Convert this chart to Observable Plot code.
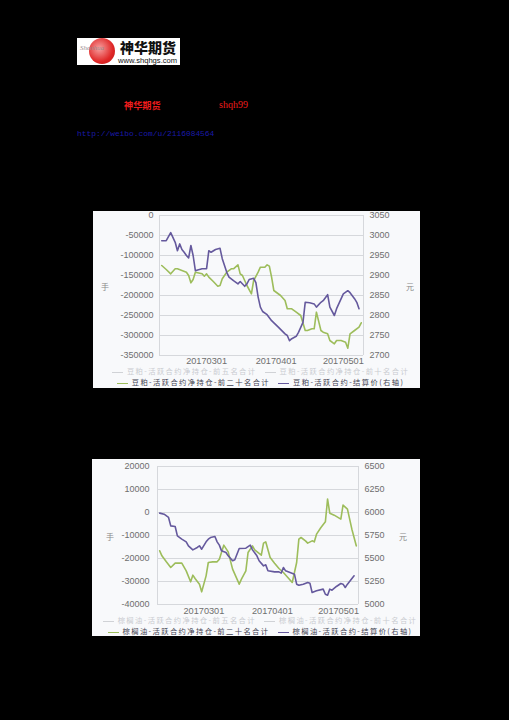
<!DOCTYPE html>
<html><head><meta charset="utf-8">
<script src="https://cdn.jsdelivr.net/npm/d3@7"></script>
<script src="https://cdn.jsdelivr.net/npm/@observablehq/plot@0.6"></script>
<style>
body{margin:0;background:#000;width:509px;height:720px;overflow:hidden;position:relative;font-family:"Liberation Sans",Arial,sans-serif}
.abs{position:absolute;white-space:nowrap}
.panel{position:absolute;background:#f8f9fb;overflow:hidden}
.legend{position:absolute;left:0;right:0;text-align:center;font-family:"Noto Sans CJK SC",sans-serif;font-size:7.3px;line-height:8px;height:8px;letter-spacing:1.4px;white-space:nowrap}
.sw{display:inline-block;width:11px;height:0;border-top:1px solid;vertical-align:middle;margin:0 4px 0 8px}
.unit{position:absolute;font-family:"Noto Sans CJK SC",sans-serif;font-size:8px;line-height:9px;color:#888;transform:translate(-50%,-50%)}
</style></head><body>

<div class="abs" style="left:77px;top:38px;width:103px;height:27px;background:#fff"></div>
<div class="abs" style="left:89px;top:38px;width:26px;height:26px;border-radius:50%;background:radial-gradient(circle at 40% 40%,#f7a0a0,#e02828 60%,#b81010)"></div>
<div class="abs" style="left:80px;top:44px;font-family:'Liberation Serif',serif;font-style:italic;font-size:7px;color:#9a8a8a">Shenhua</div>
<div class="abs" style="left:120px;top:39px;font-family:'Noto Sans CJK SC',sans-serif;font-weight:900;font-size:14px;line-height:17px;color:#111">神华期货</div>
<div class="abs" style="left:118px;top:56px;font-size:7.6px;line-height:9px;color:#111">www.shqhgs.com</div>

<div class="abs" style="left:124px;top:99px;font-family:'Noto Sans CJK SC',sans-serif;font-weight:bold;font-size:9.2px;line-height:12px;color:#ee1c1c">神华期货</div>
<div class="abs" style="left:219px;top:99px;font-family:'Liberation Serif',serif;font-size:10px;line-height:12px;color:#ee1c1c">shqh99</div>
<div class="abs" style="left:77px;top:128px;font-family:'Liberation Mono',monospace;font-size:7.9px;line-height:11px;color:#1a1aa8">http://weibo.com/u/2116084564</div>

<div class="panel" id="p1" style="left:93px;top:211px;width:327px;height:177px"></div>
<div class="panel" id="p2" style="left:92px;top:459px;width:328px;height:177px"></div>

<script>
// ---------- data ----------
const xTickLabels = ["20170301", "20170401", "20170501"];
const xDomainLabels = ["20170208", "20170510"];

const soyLeftTicks = [0, -50000, -100000, -150000, -200000, -250000, -300000, -350000];
const soyRightTicks = [3050, 3000, 2950, 2900, 2850, 2800, 2750, 2700];
const palmLeftTicks = [20000, 10000, 0, -10000, -20000, -30000, -40000];
const palmRightTicks = [6500, 6250, 6000, 5750, 5500, 5250, 5000];

const soyNetDates = ["2017-02-09","2017-02-11","2017-02-13","2017-02-15","2017-02-16","2017-02-18","2017-02-20","2017-02-21","2017-02-22","2017-02-23","2017-02-24","2017-02-27","2017-02-28","2017-03-01","2017-03-02","2017-03-04","2017-03-06","2017-03-07","2017-03-08","2017-03-10","2017-03-12","2017-03-13","2017-03-15","2017-03-16","2017-03-17","2017-03-19","2017-03-21","2017-03-22","2017-03-24","2017-03-25","2017-03-27","2017-03-28","2017-03-29","2017-03-30","2017-03-31","2017-04-03","2017-04-05","2017-04-06","2017-04-08","2017-04-10","2017-04-12","2017-04-14","2017-04-15","2017-04-17","2017-04-18","2017-04-19","2017-04-21","2017-04-22","2017-04-24","2017-04-25","2017-04-27","2017-04-28","2017-04-30","2017-05-02","2017-05-03","2017-05-04","2017-05-06","2017-05-08","2017-05-09"];
const soyNet = [-125000,-135000,-145800,-133300,-133300,-137500,-141700,-150000,-168300,-160000,-141700,-145800,-151700,-145800,-154200,-165000,-176700,-175000,-158300,-141700,-133300,-133300,-123300,-145800,-150000,-175000,-195800,-162500,-141700,-129200,-129200,-123300,-126700,-154200,-187500,-200000,-212500,-233300,-233300,-241700,-250000,-287500,-287500,-283300,-283300,-241700,-287500,-291700,-295800,-312500,-320800,-312500,-312500,-316700,-331700,-295800,-287500,-279200,-268300];

const soyPriceDates = ["2017-02-09","2017-02-11","2017-02-13","2017-02-15","2017-02-16","2017-02-17","2017-02-18","2017-02-19","2017-02-20","2017-02-21","2017-02-22","2017-02-23","2017-02-24","2017-02-25","2017-02-27","2017-03-01","2017-03-02","2017-03-03","2017-03-05","2017-03-07","2017-03-08","2017-03-10","2017-03-11","2017-03-13","2017-03-15","2017-03-16","2017-03-18","2017-03-19","2017-03-20","2017-03-22","2017-03-23","2017-03-24","2017-03-25","2017-03-26","2017-03-28","2017-03-30","2017-04-02","2017-04-05","2017-04-06","2017-04-07","2017-04-08","2017-04-10","2017-04-11","2017-04-13","2017-04-14","2017-04-16","2017-04-18","2017-04-19","2017-04-21","2017-04-22","2017-04-24","2017-04-25","2017-04-27","2017-04-28","2017-05-01","2017-05-03","2017-05-04","2017-05-06","2017-05-07","2017-05-08"];
const soyPrice = [2987,2987,3007,2983,2962,2979,2965,2958,2950,2944,2975,2950,2912,2914,2917,2917,2962,2958,2965,2968,2942,2908,2896,2887,2879,2885,2873,2879,2890,2893,2882,2846,2821,2810,2802,2787,2771,2754,2750,2737,2742,2748,2758,2783,2833,2832,2829,2821,2833,2837,2852,2821,2800,2817,2854,2862,2857,2842,2833,2817];

const palmNetDates = ["2017-02-09","2017-02-10","2017-02-12","2017-02-14","2017-02-16","2017-02-17","2017-02-19","2017-02-21","2017-02-23","2017-02-24","2017-02-25","2017-02-27","2017-02-28","2017-03-02","2017-03-03","2017-03-05","2017-03-07","2017-03-08","2017-03-10","2017-03-12","2017-03-14","2017-03-17","2017-03-18","2017-03-20","2017-03-21","2017-03-23","2017-03-24","2017-03-27","2017-03-28","2017-03-29","2017-03-30","2017-03-31","2017-04-02","2017-04-04","2017-04-06","2017-04-08","2017-04-10","2017-04-12","2017-04-13","2017-04-14","2017-04-16","2017-04-17","2017-04-19","2017-04-20","2017-04-21","2017-04-23","2017-04-25","2017-04-26","2017-04-27","2017-04-29","2017-05-02","2017-05-03","2017-05-05","2017-05-07","2017-05-09"];
const palmNet = [-16670,-18840,-21450,-23900,-22030,-22030,-22030,-25360,-30140,-27250,-28700,-31160,-34490,-27540,-21740,-21450,-21450,-20290,-14200,-17100,-24640,-31160,-28990,-25360,-17390,-14490,-16230,-18550,-13330,-12750,-16230,-19570,-22030,-24350,-26090,-28260,-30430,-21740,-11590,-10870,-12320,-13330,-12320,-12750,-9420,-6520,-4060,5800,-290,-1160,-2900,3190,1450,-7250,-14490];

const palmPriceDates = ["2017-02-09","2017-02-11","2017-02-13","2017-02-14","2017-02-16","2017-02-17","2017-02-19","2017-02-21","2017-02-22","2017-02-24","2017-02-26","2017-02-27","2017-02-28","2017-03-02","2017-03-03","2017-03-04","2017-03-06","2017-03-07","2017-03-08","2017-03-09","2017-03-11","2017-03-12","2017-03-14","2017-03-15","2017-03-17","2017-03-20","2017-03-22","2017-03-23","2017-03-25","2017-03-26","2017-03-28","2017-03-29","2017-03-30","2017-04-02","2017-04-04","2017-04-05","2017-04-06","2017-04-07","2017-04-09","2017-04-11","2017-04-12","2017-04-13","2017-04-15","2017-04-17","2017-04-18","2017-04-19","2017-04-21","2017-04-24","2017-04-25","2017-04-26","2017-04-27","2017-04-28","2017-04-30","2017-05-02","2017-05-03","2017-05-04","2017-05-05","2017-05-08"];
const palmPrice = [5993,5982,5946,5855,5848,5746,5710,5681,5638,5594,5620,5638,5601,5681,5710,5728,5739,5681,5645,5583,5565,5529,5475,5486,5609,5612,5645,5594,5529,5475,5420,5431,5366,5355,5355,5341,5402,5366,5348,5330,5221,5210,5221,5239,5232,5130,5149,5167,5112,5101,5167,5156,5196,5228,5221,5185,5221,5312];

const soyLegend1 = ["豆粕-活跃合约净持仓-前五名合计", "豆粕-活跃合约净持仓-前十名合计"];
const soyLegend2 = ["豆粕-活跃合约净持仓-前二十名合计", "豆粕-活跃合约-结算价(右轴)"];
const palmLegend1 = ["棕榈油-活跃合约净持仓-前五名合计", "棕榈油-活跃合约净持仓-前十名合计"];
const palmLegend2 = ["棕榈油-活跃合约净持仓-前二十名合计", "棕榈油-活跃合约-结算价(右轴)"];
const unitLeft = "手", unitRight = "元";

// ---------- helpers ----------
const GREEN = "#9dbd5b", PURPLE = "#65599d";
const parseYMD = d3.utcParse("%Y%m%d");
const parseISO = d3.utcParse("%Y-%m-%d");
const fmtYMD = d3.utcFormat("%Y%m%d");

function dualChart(o) {
  const leftDomain = d3.extent(o.leftTicks);
  const rightDomain = d3.extent(o.rightTicks);
  const toLeft = d3.scaleLinear().domain(rightDomain).range(leftDomain);
  const net = o.netDates.map((d, i) => ({date: parseISO(d), v: o.net[i]}));
  const price = o.priceDates.map((d, i) => ({date: parseISO(d), v: toLeft(o.price[i])}));
  const xDomain = xDomainLabels.map(parseYMD);
  const xTicks = xTickLabels.map(parseYMD);
  return Plot.plot({
    width: o.width, height: o.height,
    marginTop: o.mt, marginBottom: o.mb, marginLeft: o.ml, marginRight: o.mr,
    style: {background: "transparent", color: "#6e6e6e", fontSize: "9px", fontFamily: "'Liberation Sans', Arial, sans-serif"},
    x: {type: "utc", domain: xDomain, axis: null},
    y: {domain: leftDomain, axis: null},
    marks: [
      Plot.gridY(o.leftTicks, {stroke: "#d6d8dc", strokeOpacity: 1}),
      Plot.ruleX(xDomain, {stroke: "#d6d8dc", strokeOpacity: 1}),
      Plot.axisY(o.leftTicks, {anchor: "left", tickSize: 0, tickPadding: o.lp, label: null, tickFormat: d => String(d)}),
      Plot.axisY(o.rightTicks.map(toLeft), {anchor: "right", tickSize: 0, tickPadding: 6, label: null, tickFormat: d => String(Math.round(toLeft.invert(d)))}),
      Plot.axisX(xTicks, {anchor: "bottom", tickSize: 0, tickPadding: o.xp, label: null, tickFormat: fmtYMD, fontSize: 9.2}),
      Plot.line(net, {x: "date", y: "v", stroke: GREEN, strokeWidth: 1.6}),
      Plot.line(price, {x: "date", y: "v", stroke: PURPLE, strokeWidth: 1.6})
    ]
  });
}

function legendRow(items, colors, textColor, top) {
  const div = document.createElement("div");
  div.className = "legend";
  div.style.top = top + "px";
  div.style.color = textColor;
  items.forEach((t, i) => {
    const sw = document.createElement("span");
    sw.className = "sw";
    sw.style.borderColor = colors[i];
    div.appendChild(sw);
    div.appendChild(document.createTextNode(t));
  });
  return div;
}

function unit(panel, text, x, y) {
  const s = document.createElement("div");
  s.className = "unit"; s.textContent = text;
  s.style.left = x + "px"; s.style.top = y + "px";
  panel.appendChild(s);
}

// ---------- chart 1 ----------
const p1 = document.getElementById("p1");
p1.appendChild(dualChart({
  width: 327, height: 157, mt: 4, mb: 13, ml: 66, mr: 57, lp: 6, xp: 2,
  leftTicks: soyLeftTicks, rightTicks: soyRightTicks,
  netDates: soyNetDates, net: soyNet, priceDates: soyPriceDates, price: soyPrice
}));
unit(p1, unitLeft, 12, 75);
unit(p1, unitRight, 317, 75);
p1.appendChild(legendRow(soyLegend1, ["#d0d2d6", "#d0d2d6"], "#c9cbd0", 156));
p1.appendChild(legendRow(soyLegend2, [GREEN, PURPLE], "#3f4150", 167));

// ---------- chart 2 ----------
const p2 = document.getElementById("p2");
p2.appendChild(dualChart({
  width: 328, height: 158, mt: 7, mb: 13, ml: 65, mr: 62, lp: 8, xp: 3,
  leftTicks: palmLeftTicks, rightTicks: palmRightTicks,
  netDates: palmNetDates, net: palmNet, priceDates: palmPriceDates, price: palmPrice
}));
unit(p2, unitLeft, 18, 77);
unit(p2, unitRight, 311, 77);
p2.appendChild(legendRow(palmLegend1, ["#d0d2d6", "#d0d2d6"], "#c9cbd0", 157));
p2.appendChild(legendRow(palmLegend2, [GREEN, PURPLE], "#3f4150", 168));
</script>
</body></html>
